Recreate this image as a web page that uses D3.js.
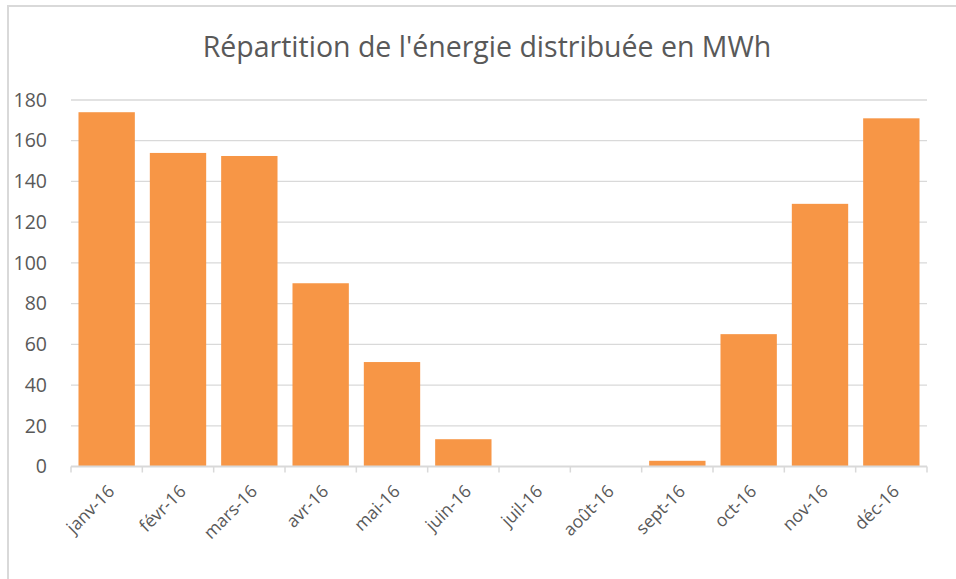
<!DOCTYPE html>
<html>
<head>
<meta charset="utf-8">
<script src="https://cdn.jsdelivr.net/npm/d3@7"></script>
<style>
  body { margin: 0; background: #fff; }
  svg { display: block; font-family: "Open Sans", sans-serif; }
</style>
</head>
<body>
<svg width="956" height="579"></svg>
<script>
// Data
const months = ["janv-16", "févr-16", "mars-16", "avr-16", "mai-16", "juin-16",
  "juil-16", "août-16", "sept-16", "oct-16", "nov-16", "déc-16"];
const energy = [174, 154, 152.5, 90, 51.3, 13.4, 0, 0, 2.8, 65, 129, 171];
const yTicks = [0, 20, 40, 60, 80, 100, 120, 140, 160, 180];

const svg = d3.select("svg");
const grey = "#595959";

// chart frame (only top and left edges are visible)
svg.append("path")
  .attr("d", "M8,579 V6 H956")
  .attr("fill", "none")
  .attr("stroke", "#d9d9d9")
  .attr("stroke-width", 2);

// title
svg.append("text")
  .attr("x", 487)
  .attr("y", 57)
  .attr("text-anchor", "middle")
  .attr("fill", grey)
  .style("font-size", "28.5px")
  .text("Répartition de l'énergie distribuée en MWh");

const plotLeft = 71, plotRight = 927, plotTop = 100, plotBottom = 466.5;

const x = d3.scaleBand()
  .domain(months)
  .range([plotLeft, plotRight])
  .paddingInner(0.21)
  .paddingOuter(0.105);

const y = d3.scaleLinear()
  .domain([0, 180])
  .range([plotBottom, plotTop]);

// gridlines
svg.append("g")
  .selectAll("line")
  .data(yTicks.slice(1))
  .enter()
  .append("line")
  .attr("x1", plotLeft)
  .attr("x2", plotRight)
  .attr("y1", d => y(d))
  .attr("y2", d => y(d))
  .attr("stroke", "#d9d9d9")
  .attr("stroke-width", 1.3);

// y axis labels
const yAxis = d3.axisLeft(y).tickValues(yTicks).tickSize(0).tickPadding(0);
const gy = svg.append("g")
  .attr("transform", `translate(47, 0)`)
  .call(yAxis);
gy.select(".domain").remove();
gy.selectAll("text")
  .attr("fill", grey)
  .style("font-size", "19.5px")
  .style("font-family", "'Open Sans', sans-serif");

// bars
svg.selectAll("rect.bar")
  .data(energy)
  .enter()
  .append("rect")
  .attr("class", "bar")
  .attr("x", (d, i) => x(months[i]))
  .attr("y", d => y(d))
  .attr("width", x.bandwidth())
  .attr("height", d => plotBottom - y(d))
  .attr("fill", "#f79646");

// x axis
const xAxis = d3.axisBottom(x).tickSize(0).tickPadding(0);
const gx = svg.append("g")
  .attr("transform", `translate(0, ${plotBottom})`)
  .call(xAxis);
gx.select(".domain")
  .attr("d", `M${plotLeft},0H${plotRight}`)
  .attr("stroke", "#d9d9d9")
  .attr("stroke-width", 2);
gx.selectAll("text")
  .attr("fill", grey)
  .style("font-size", "17.5px")
  .style("font-family", "'Open Sans', sans-serif")
  .attr("text-anchor", "end")
  .attr("dy", 0)
  .attr("transform", "translate(9, 26) rotate(-45)");

// tick marks at band edges
const edges = months.map(m => x(m) - x.step() * x.paddingInner() / 2).concat([plotRight]);
svg.append("g")
  .selectAll("line")
  .data(edges)
  .enter()
  .append("line")
  .attr("x1", d => d)
  .attr("x2", d => d)
  .attr("y1", plotBottom)
  .attr("y2", plotBottom + 6)
  .attr("stroke", "#d9d9d9")
  .attr("stroke-width", 1.5);
</script>
</body>
</html>
